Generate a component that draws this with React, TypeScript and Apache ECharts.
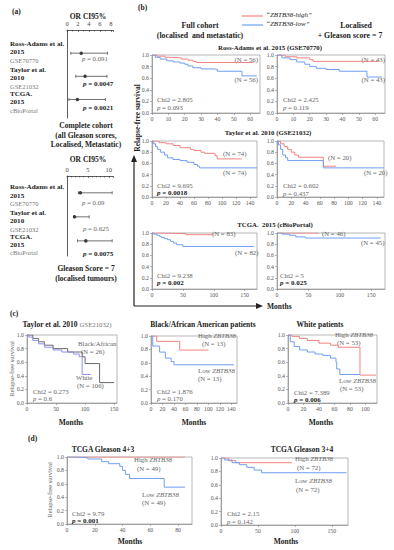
import React, { useEffect, useRef } from "react";
import * as echarts from "echarts";

const FONT = '"Liberation Serif", "DejaVu Serif", serif';
const RED = "#f2837f";
const BLUE = "#6f9ef2";
const DARK = "#6a6a6a";
const PURPLE = "#8f8ff2";

// ---------- (a) forest plots ----------
const forestAllOR = [2.6, 3.3, 1.9];
const forestAllLo = [0.7, 1.6, 0.35];
const forestAllHi = [7.4, 7.3, 7.0];
const forestG7OR = [3.2, 1.8, 4.5];
const forestG7Lo = [2.7, 1.7, 2.5];
const forestG7Hi = [10.8, 5.3, 10.8];
const forestTicksAll = [0, 2, 4, 6, 8];
const forestTicksG7 = [0, 5, 10];

// ---------- (b) KM curves ----------
const raFullHigh = [[0, 1], [3, 0.98], [8, 0.96], [12, 0.95], [18, 0.93], [22, 0.91], [25, 0.89], [27, 0.87], [62, 0.87]];
const raFullLow = [[0, 1], [2, 0.96], [5, 0.93], [9, 0.9], [13, 0.88], [17, 0.86], [20, 0.84], [22, 0.81], [25, 0.78], [30, 0.76], [38, 0.75], [40, 0.72], [55, 0.64], [64, 0.64]];
const raG7High = [[0, 1], [5, 0.97], [12, 0.95], [20, 0.92], [22, 0.89], [62, 0.89]];
const raG7Low = [[0, 1], [3, 0.95], [8, 0.92], [12, 0.88], [17, 0.84], [20, 0.8], [24, 0.77], [30, 0.75], [38, 0.72], [55, 0.62], [64, 0.62]];

const tayFullHigh = [[0, 1], [10, 0.97], [20, 0.95], [30, 0.92], [40, 0.88], [55, 0.85], [60, 0.83], [70, 0.8], [75, 0.78], [90, 0.74], [93, 0.68], [128, 0.68]];
const tayFullLow = [[0, 1], [2, 0.95], [5, 0.9], [8, 0.85], [12, 0.8], [18, 0.75], [22, 0.7], [30, 0.67], [40, 0.65], [50, 0.62], [60, 0.58], [65, 0.55], [68, 0.52], [150, 0.52]];
const tayG7High = [[0, 1], [5, 0.95], [10, 0.9], [15, 0.85], [20, 0.8], [25, 0.75], [30, 0.71], [65, 0.55], [83, 0.55]];
const tayG7Low = [[0, 1], [2, 0.93], [5, 0.85], [8, 0.75], [12, 0.7], [15, 0.65], [65, 0.52], [150, 0.52]];

const tcgaFullHigh = [[0, 1], [10, 0.99], [55, 0.97], [100, 0.97]];
const tcgaFullLow = [[0, 1], [3, 0.98], [8, 0.96], [12, 0.94], [15, 0.92], [20, 0.9], [25, 0.88], [30, 0.85], [35, 0.82], [40, 0.79], [50, 0.76], [165, 0.76]];
const tcgaG7High = [[0, 1], [66, 1]];
const tcgaG7Low = [[0, 1], [8, 0.98], [20, 0.96], [30, 0.93], [45, 0.91], [165, 0.91]];

// ---------- (c) ----------
const raceBlack = [[0, 1], [10, 0.95], [20, 0.9], [30, 0.85], [45, 0.8], [70, 0.75], [95, 0.68], [100, 0.58], [125, 0.3], [150, 0.3]];
const raceWhite = [[0, 1], [3, 0.97], [10, 0.92], [20, 0.87], [30, 0.82], [45, 0.78], [60, 0.75], [80, 0.72], [90, 0.68], [95, 0.42], [110, 0.42]];
const aaHigh = [[0, 1], [10, 0.92], [50, 0.79], [100, 0.79]];
const aaLow = [[0, 1], [3, 0.85], [15, 0.76], [25, 0.67], [35, 0.62], [40, 0.57], [145, 0.57]];
const whHigh = [[0, 1], [5, 0.98], [15, 0.95], [25, 0.92], [40, 0.88], [55, 0.85], [65, 0.82], [93, 0.41], [114, 0.41]];
const whLow = [[0, 1], [3, 0.9], [8, 0.83], [15, 0.78], [25, 0.75], [35, 0.72], [45, 0.7], [55, 0.66], [62, 0.6], [63, 0.5], [67, 0.42], [93, 0.42]];

// ---------- (d) ----------
const g43High = [[0, 1], [85, 1]];
const g43Low = [[0, 1], [5, 0.99], [15, 0.97], [25, 0.93], [30, 0.9], [38, 0.86], [40, 0.8], [42, 0.74], [45, 0.68], [70, 0.55], [85, 0.55]];
const g34High = [[0, 1], [10, 0.96], [20, 0.93], [96, 0.93]];
const g34Low = [[0, 1], [5, 0.97], [15, 0.93], [25, 0.9], [35, 0.86], [45, 0.82], [55, 0.78], [170, 0.78]];

type Km = { left: number; top: number; width: number; height: number; xMax: number; interval: number; lastLabel: number; series: [number[][], string][] };

const kmPanels: Km[] = [
  { left: 152, top: 55, width: 108, height: 58, xMax: 66, interval: 10, lastLabel: 60, series: [[raFullHigh, RED], [raFullLow, BLUE]] },
  { left: 277, top: 55, width: 108, height: 58, xMax: 66, interval: 10, lastLabel: 60, series: [[raG7High, RED], [raG7Low, BLUE]] },
  { left: 152, top: 141, width: 105, height: 56, xMax: 150, interval: 20, lastLabel: 140, series: [[tayFullHigh, RED], [tayFullLow, BLUE]] },
  { left: 277, top: 141, width: 107, height: 56, xMax: 150, interval: 20, lastLabel: 140, series: [[tayG7High, RED], [tayG7Low, BLUE]] },
  { left: 152, top: 233, width: 105, height: 56, xMax: 170, interval: 50, lastLabel: 150, series: [[tcgaFullHigh, RED], [tcgaFullLow, BLUE]] },
  { left: 277, top: 233, width: 108, height: 56, xMax: 172, interval: 50, lastLabel: 150, series: [[tcgaG7High, RED], [tcgaG7Low, BLUE]] },
  { left: 27, top: 335, width: 90, height: 68, xMax: 155, interval: 50, lastLabel: 150, series: [[raceBlack, DARK], [raceWhite, PURPLE]] },
  { left: 151, top: 336, width: 86, height: 67, xMax: 150, interval: 20, lastLabel: 140, series: [[aaHigh, RED], [aaLow, BLUE]] },
  { left: 288, top: 335, width: 89, height: 68, xMax: 115, interval: 20, lastLabel: 100, series: [[whHigh, RED], [whLow, BLUE]] },
  { left: 67, top: 457, width: 125, height: 67, xMax: 90, interval: 20, lastLabel: 80, series: [[g43High, RED], [g43Low, BLUE]] },
  { left: 221, top: 458, width: 127, height: 67, xMax: 172, interval: 50, lastLabel: 150, series: [[g34High, RED], [g34Low, BLUE]] },
];

function T(x: number, y: number, text: string, o: any = {}) {
  return {
    type: "text",
    x,
    y,
    rotation: o.rot ?? 0,
    silent: true,
    style: {
      text,
      fill: o.fill ?? "#222",
      fontSize: o.size ?? 7.5,
      fontWeight: o.bold ? "bold" : "normal",
      fontStyle: o.italic ? "italic" : "normal",
      fontFamily: FONT,
      align: o.align ?? "left",
      verticalAlign: "middle",
      rich: o.rich,
    },
  };
}

const G = "#666";
const AS = 6.8;
const LS = 7.1;
const ann = (x: number, y: number, t: string, extra: any = {}) => T(x, y, t, { fill: G, size: AS, ...extra });
const lab = (x: number, y: number, t: string) => T(x, y, t, { bold: true, size: LS });
const pBold = (x: number, y: number, t: string) =>
  T(x, y, "{i|p}{b| = " + t + "}", { fill: "#222", size: 7, rich: { i: { fontStyle: "italic", fontWeight: "bold", fontSize: 7, fontFamily: FONT, fill: "#222" }, b: { fontWeight: "bold", fontSize: 7, fontFamily: FONT, fill: "#222" } } });
const pNorm = (x: number, y: number, t: string) =>
  T(x, y, "{i|p}{b| = " + t + "}", { fill: G, size: AS, rich: { i: { fontStyle: "italic", fontSize: AS, fontFamily: FONT, fill: G }, b: { fontSize: AS, fontFamily: FONT, fill: G } } });
const geneTxt = (x: number, y: number, lead: string) =>
  T(x, y, "{n|" + lead + "}{g|ZBTB38}", { rich: { n: { fontSize: AS, fontFamily: FONT, fill: G }, g: { fontSize: AS, fontFamily: FONT, fill: G, fontStyle: "italic" } } });

function buildOption() {
  const grid: any[] = [];
  const xAxis: any[] = [];
  const yAxis: any[] = [];
  const series: any[] = [];

  const forests = [
    { top: 30, height: 88, max: 8.4, interval: 2, ticks: forestTicksAll, or: forestAllOR, lo: forestAllLo, hi: forestAllHi, ymin: 0, ymax: 3.8 },
    { top: 176, height: 80, max: 11, interval: 5, ticks: forestTicksG7, or: forestG7OR, lo: forestG7Lo, hi: forestG7Hi, ymin: 0.3, ymax: 3.63 },
  ];
  forests.forEach((f) => {
    const gi = grid.length;
    grid.push({ left: 67, top: f.top, width: 46, height: f.height, show: false });
    xAxis.push({
      gridIndex: gi, type: "value", position: "top", min: 0, max: f.max, interval: f.interval,
      axisLine: { show: true, lineStyle: { color: "#333", width: 0.8 } },
      axisTick: { show: true, inside: true, length: 2, lineStyle: { color: "#333", width: 0.6 } },
      minorTick: { show: true, splitNumber: f.interval, length: 1.5, lineStyle: { color: "#333", width: 0.5 } },
      axisLabel: { fontSize: 6.5, color: "#444", fontFamily: FONT, margin: 3, formatter: (v: number) => (f.ticks.includes(v) ? String(v) : "") },
      splitLine: { show: false },
    });
    yAxis.push({
      gridIndex: gi, type: "value", inverse: true, min: f.ymin, max: f.ymax,
      axisLine: { show: true, onZero: false, lineStyle: { color: "#333", width: 0.8 } },
      axisTick: { show: false }, axisLabel: { show: false }, splitLine: { show: false },
    });
    f.or.forEach((v, i) => {
      const row = i + 1;
      series.push({ type: "line", xAxisIndex: gi, yAxisIndex: gi, data: [[f.lo[i], row], [f.hi[i], row]], symbol: "none", lineStyle: { color: "#333", width: 0.7 }, silent: true });
      series.push({ type: "scatter", xAxisIndex: gi, yAxisIndex: gi, data: [[f.lo[i], row], [f.hi[i], row]], symbol: "rect", symbolSize: [0.8, 3], itemStyle: { color: "#333" }, silent: true });
      series.push({ type: "scatter", xAxisIndex: gi, yAxisIndex: gi, data: [[v, row]], symbol: "circle", symbolSize: 3.5, itemStyle: { color: "#111" }, silent: true });
    });
  });

  kmPanels.forEach((p) => {
    const gi = grid.length;
    grid.push({ left: p.left, top: p.top, width: p.width, height: p.height, show: true, borderColor: "#9a9a9a", borderWidth: 0.7, backgroundColor: "transparent" });
    xAxis.push({
      gridIndex: gi, type: "value", min: 0, max: p.xMax, interval: p.interval,
      axisLine: { show: true, lineStyle: { color: "#888", width: 0.7 } },
      axisTick: { show: true, length: 2, lineStyle: { color: "#888", width: 0.6 } },
      axisLabel: { fontSize: 5.8, color: "#555", fontFamily: FONT, margin: 3, showMaxLabel: false, formatter: (v: number) => (v <= p.lastLabel ? String(v) : "") },
      splitLine: { show: false },
    });
    yAxis.push({
      gridIndex: gi, type: "value", min: 0, max: 1, interval: 0.2,
      axisLine: { show: true, lineStyle: { color: "#888", width: 0.7 } },
      axisTick: { show: true, length: 2, lineStyle: { color: "#888", width: 0.6 } },
      axisLabel: { fontSize: 5.8, color: "#555", fontFamily: FONT, margin: 3, formatter: (v: number) => v.toFixed(1) },
      splitLine: { show: false },
    });
    p.series.forEach(([d, c]) => {
      series.push({ type: "line", step: "end", xAxisIndex: gi, yAxisIndex: gi, data: d, symbol: "none", lineStyle: { color: c, width: 1 }, silent: true });
    });
  });

  const graphic: any[] = [
    // panel (a)
    T(12, 11, "(a)", { bold: true }),
    T(88, 16, "OR CI95%", { bold: true, align: "center" }),
    lab(10, 44, "Ross-Adams et al."),
    lab(10, 52, "2015"),
    T(10, 60, "GSE70770", { fill: "#777", size: 6.5 }),
    lab(10, 70, "Taylor et al."),
    lab(10, 78, "2010"),
    T(10, 86, "GSE21032", { fill: "#777", size: 6.5 }),
    lab(10, 94, "TCGA."),
    lab(10, 102, "2015"),
    T(10, 110, "cBioPortal", { fill: "#777", size: 6.5 }),
    pNorm(82, 58, "0.091"),
    pBold(83, 84, "0.0047"),
    pBold(83, 108, "0.0021"),
    T(86, 125, "Complete cohort", { bold: true, align: "center" }),
    T(86, 135, "(all Gleason scores,", { bold: true, align: "center" }),
    T(86, 144, "Localised, Metastatic)", { bold: true, align: "center" }),
    T(88, 159, "OR CI95%", { bold: true, align: "center" }),
    lab(10, 187, "Ross-Adams et al."),
    lab(10, 196, "2015"),
    T(10, 203, "GSE70770", { fill: "#777", size: 6.5 }),
    lab(10, 213, "Taylor et al."),
    lab(10, 221, "2010"),
    T(10, 229, "GSE21032", { fill: "#777", size: 6.5 }),
    lab(10, 237, "TCGA."),
    lab(10, 245, "2015"),
    T(10, 252, "cBioPortal", { fill: "#777", size: 6.5 }),
    pNorm(82, 202, "0.09"),
    pNorm(83, 228, "0.625"),
    pBold(83, 254, "0.0075"),
    T(86, 268, "Gleason Score = 7", { bold: true, align: "center" }),
    T(86, 278, "(localised tumours)", { bold: true, align: "center" }),

    // panel (b)
    T(138, 7, "(b)", { bold: true }),
    { type: "line", shape: { x1: 242, y1: 16, x2: 263, y2: 16 }, style: { stroke: RED, lineWidth: 1.2 } },
    { type: "line", shape: { x1: 242, y1: 25, x2: 263, y2: 25 }, style: { stroke: BLUE, lineWidth: 1.2 } },
    T(266, 15, "\u201cZBTB38-high\u201d", { italic: true, size: 7 }),
    T(266, 24, "\u201cZBTB38-low\u201d", { italic: true, size: 7 }),
    T(200, 25, "Full cohort", { bold: true, align: "center", size: 7.8 }),
    T(200, 35, "(localised  and metastatic)", { bold: true, align: "center", size: 7.8 }),
    T(356, 25, "Localised", { bold: true, align: "center", size: 7.8 }),
    T(350, 35, "+ Gleason score = 7", { bold: true, align: "center", size: 7.8 }),
    T(270, 47, "Ross-Adams et al. 2015 (GSE70770)", { bold: true, align: "center", size: 6.8 }),
    ann(258, 59, "(N = 56)", { align: "right" }),
    ann(258, 79, "(N = 56)", { align: "right" }),
    ann(385, 59, "(N = 43)", { align: "right" }),
    ann(385, 79, "(N = 43)", { align: "right" }),
    ann(157, 99, "Chi2 = 2.805"),
    pNorm(157, 107, "0.093"),
    ann(283, 99, "Chi2 = 2.425"),
    pNorm(283, 107, "0.119"),
    T(268, 132, "Taylor et al. 2010 (GSE21032)", { bold: true, align: "center", size: 6.8 }),
    ann(223, 153, "(N = 74)"),
    ann(223, 172, "(N = 74)"),
    ann(328, 157, "(N = 20)"),
    ann(364, 172, "(N = 20)"),
    ann(157, 185, "Chi2 = 9.695"),
    pBold(157, 193, "0.0018"),
    ann(283, 185, "Chi2 = 0.602"),
    pNorm(283, 193, "0.437"),
    T(275, 224, "TCGA.  2015 (cBioPortal)", { bold: true, align: "center", size: 6.8 }),
    ann(212, 233, "(N = 83)"),
    ann(235, 252, "(N = 82)"),
    ann(322, 233, "(N = 46)"),
    ann(361, 242, "(N = 45)"),
    ann(157, 275, "Chi2 = 9.238"),
    pBold(157, 283, "0.002"),
    ann(280, 275, "Chi2 = 5"),
    pBold(280, 283, "0.025"),
    { type: "line", shape: { x1: 134, y1: 306, x2: 134, y2: 160 }, style: { stroke: "#222", lineWidth: 1.2 } },
    { type: "polygon", shape: { points: [[131, 162], [137, 162], [134, 155]] }, style: { fill: "#222" } },
    { type: "line", shape: { x1: 134, y1: 306, x2: 258, y2: 306 }, style: { stroke: "#222", lineWidth: 1.2 } },
    { type: "polygon", shape: { points: [[256, 303], [256, 309], [263, 306]] }, style: { fill: "#222" } },
    T(267, 306, "Months", { bold: true }),
    T(137, 118, "Relapse-free survival", { bold: true, align: "center", rot: Math.PI / 2 }),

    // panel (c)
    T(10, 313, "(c)", { bold: true }),
    T(67, 324, "{b|Taylor et al. 2010 }{g|GSE21032)}", { align: "center", rich: { b: { fontWeight: "bold", fontSize: 7.5, fontFamily: FONT, fill: "#222" }, g: { fontSize: 6.8, fontFamily: FONT, fill: "#777" } } }),
    ann(78, 343, "Black/African"),
    ann(81, 351, "(N = 26)"),
    ann(76, 377, "White"),
    ann(77, 385, "(N = 106)"),
    ann(33, 391, "Chi2 = 0.273"),
    pNorm(33, 398, "0.6"),
    T(71, 422, "Months", { bold: true, align: "center" }),
    T(11, 369, "Relapse-free survival", { fill: G, size: 6.5, align: "center", rot: Math.PI / 2 }),
    T(203, 324, "Black/African American patients", { bold: true, align: "center" }),
    geneTxt(198, 335, "High "),
    ann(202, 343, "(N = 13)"),
    geneTxt(198, 370, "Low "),
    ann(198, 378, "(N = 13)"),
    ann(157, 391, "Chi2 = 1.876"),
    pNorm(157, 398, "0.170"),
    T(194, 422, "Months", { bold: true, align: "center" }),
    T(320, 324, "White patients", { bold: true, align: "center" }),
    geneTxt(335, 334, "High "),
    ann(337, 342, "(N = 53)"),
    geneTxt(339, 380, "Low "),
    ann(340, 388, "(N = 53)"),
    ann(294, 392, "Chi2 = 7.389"),
    pBold(294, 400, "0.006"),
    T(321, 422, "Months", { bold: true, align: "center" }),

    // panel (d)
    T(28, 438, "(d)", { bold: true }),
    T(103, 449, "TCGA Gleason 4+3", { bold: true, align: "center" }),
    T(302, 449, "TCGA Gleason 3+4", { bold: true, align: "center" }),
    geneTxt(134, 459, "High "),
    ann(137, 468, "(N = 49)"),
    geneTxt(142, 494, "Low "),
    ann(142, 502, "(N = 49)"),
    ann(72, 513, "Chi2 = 9.79"),
    pBold(72, 521, "0.001"),
    T(130, 541, "Months", { bold: true, align: "center" }),
    T(49, 490, "Relapse-free survival", { fill: G, size: 6.5, align: "center", rot: Math.PI / 2 }),
    geneTxt(295, 458, "High "),
    ann(297, 467, "(N = 72)"),
    geneTxt(295, 480, "Low "),
    ann(296, 489, "(N = 72)"),
    ann(227, 513, "Chi2 = 2.15"),
    pNorm(227, 521, "0.142"),
    T(286, 541, "Months", { bold: true, align: "center" }),
  ];

  return { animation: false, backgroundColor: "#fff", grid, xAxis, yAxis, series, graphic };
}

export default function App() {
  const ref = useRef<HTMLDivElement>(null);
  useEffect(() => {
    if (!ref.current) return;
    const chart = echarts.init(ref.current, undefined, { renderer: "svg" });
    chart.setOption(buildOption() as any);
    return () => chart.dispose();
  }, []);
  return <div ref={ref} style={{ position: "absolute", left: 0, top: 0, width: 394, height: 550, background: "#fff" }} />;
}
